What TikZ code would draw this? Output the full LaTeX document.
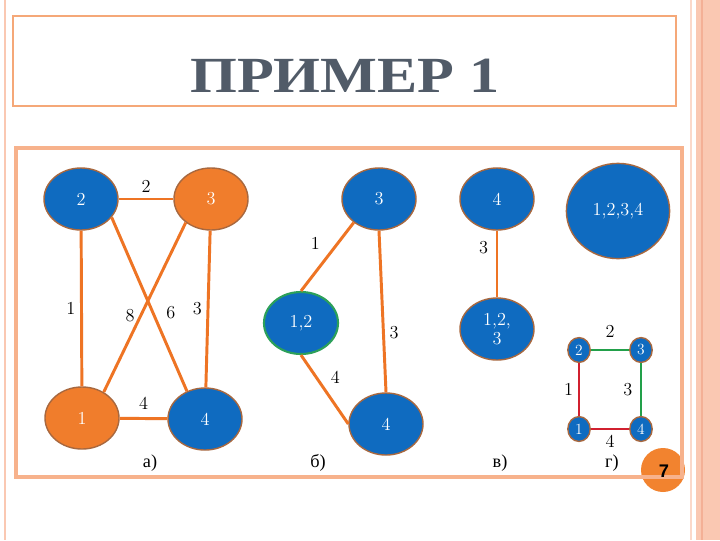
\documentclass[tikz,border=0pt]{standalone}
\usepackage{fontspec}
\newfontfamily\cyr{Liberation Serif}
\newfontfamily\pgsans{Liberation Sans}
\usetikzlibrary{shapes.geometric}
\definecolor{nodeblue}{HTML}{0F6BC0}
\definecolor{nodeorange}{HTML}{F07D2C}
\definecolor{nodeline}{HTML}{A8683F}
\definecolor{nodegreen}{HTML}{2CA05A}
\definecolor{edgeorange}{HTML}{EE7424}
\definecolor{edgegreen}{HTML}{22A04A}
\definecolor{edgered}{HTML}{D1202F}
\definecolor{framecol}{HTML}{F7B28C}
\definecolor{titleframe}{HTML}{F5A878}
\definecolor{sidecol}{HTML}{FAC8B2}
\definecolor{sideline}{HTML}{F4B096}
\definecolor{titlecol}{HTML}{515B68}
\definecolor{pagecol}{HTML}{F2832F}

\begin{document}
\begin{tikzpicture}[x=0.025cm,y=-0.025cm,
 vtx/.style={ellipse,draw=nodeline,line width=1pt,text=white,minimum width=1.85cm,
  minimum height=1.55cm,inner sep=0pt,align=center,font=\fontsize{13}{14}\selectfont},
 bv/.style={vtx,fill=nodeblue},
 ov/.style={vtx,fill=nodeorange},
 sv/.style={bv,minimum width=0.56cm,minimum height=0.62cm,font=\fontsize{11}{12}\selectfont},
 edge/.style={edgeorange,line width=2.1pt},
 sedge/.style={line width=1.8pt},
 lbl/.style={text=black,font=\fontsize{13}{14}\selectfont},
 capt/.style={font=\cyr\fontsize{13}{14}\selectfont}]
\useasboundingbox (0,0) rectangle (720,540);
\fill[white] (0,0) rectangle (720,540);
% page frame
\draw[sidecol,line width=2pt] (5,0) -- (5,540);
\draw[sidecol!70,line width=0.8pt] (691,0) -- (691,540);
\fill[sidecol] (696,0) rectangle (720,540);
\draw[sideline,line width=1.2pt] (702,0) -- (702,540);
\fill[pagecol] (663,470) circle (22);
\draw[titleframe,line width=2.1pt] (13,16) rectangle (676,106);
\draw[framecol,line width=2.8pt] (16,148) rectangle (682,477);
\node[text=titlecol,anchor=base,font=\cyr\bfseries\fontsize{36}{40}\selectfont] (title) at (345,92)
 {\scalebox{1.19}[1]{ПРИМЕР 1}};
\node[font=\pgsans\bfseries\fontsize{13}{14}\selectfont] (pg) at (664,471) {7};

% a)
\node[bv] (a2) at (81,199) {2};
\node[ov] (a3) at (211,199) {3};
\node[ov] (a1) at (82,418) {1};
\node[bv] (a4) at (205,419) {4};
\draw[edge] (a2) -- (a3) node[midway,above,lbl] {2};
\draw[edge] (a2) -- (a1) node[midway,left,lbl] {1};
\draw[edge] (a3) -- (a4) node[midway,left,lbl] {3};
\draw[edge] (a1) -- (a4) node[midway,above=2pt,lbl] {4};
\draw[edge] (a2.-31) -- (a4.123) node[pos=.55,right=5pt,lbl] {6};
\draw[edge] (a3.223) -- (a1.50) node[pos=.55,left,lbl] {8};
\node[capt] (capa) at (150,463) {а)};

% b)
\node[bv] (b3) at (379,199) {3};
\node[bv,draw=nodegreen,line width=1.5pt] (b12) at (301,323) {1,2};
\node[bv] (b4) at (386,424) {4};
\draw[edge] (b3.223) -- (b12.north) node[midway,above left=1pt,lbl] {1};
\draw[edge] (b3.south) -- (b4.north) node[pos=.63,right,lbl] {3};
\draw[edge] (b12.south) -- (b4.west) node[midway,above right,lbl] {4};
\node[capt] (capb) at (318,463) {б)};

% c)
\node[bv] (c4) at (497,199) {4};
\node[bv] (c123) at (497,329) {1,2,\\3};
\draw[edge] (c4) -- (c123) node[pos=.25,left=2pt,lbl] {3};
\node[capt] (capc) at (500,463) {в)};

% d)
\node[bv,minimum width=2.58cm,minimum height=2.38cm] (d1234) at (618,211) {1,2,3,4};
\node[sv] (g2) at (579,350) {2};
\node[sv] (g3) at (641,350) {3};
\node[sv] (g1) at (579,429) {1};
\node[sv] (g4) at (641,429) {4};
\draw[sedge,edgegreen] (g2) -- (g3) node[midway,above=5pt,lbl] {2};
\draw[sedge,edgegreen] (g3) -- (g4) node[midway,left=2pt,lbl] {3};
\draw[sedge,edgered] (g2) -- (g1) node[midway,left,lbl] {1};
\draw[sedge,edgered] (g1) -- (g4) node[midway,below,lbl] {4};
\node[capt] (capd) at (612,463) {г)};
\end{tikzpicture}
\end{document}
